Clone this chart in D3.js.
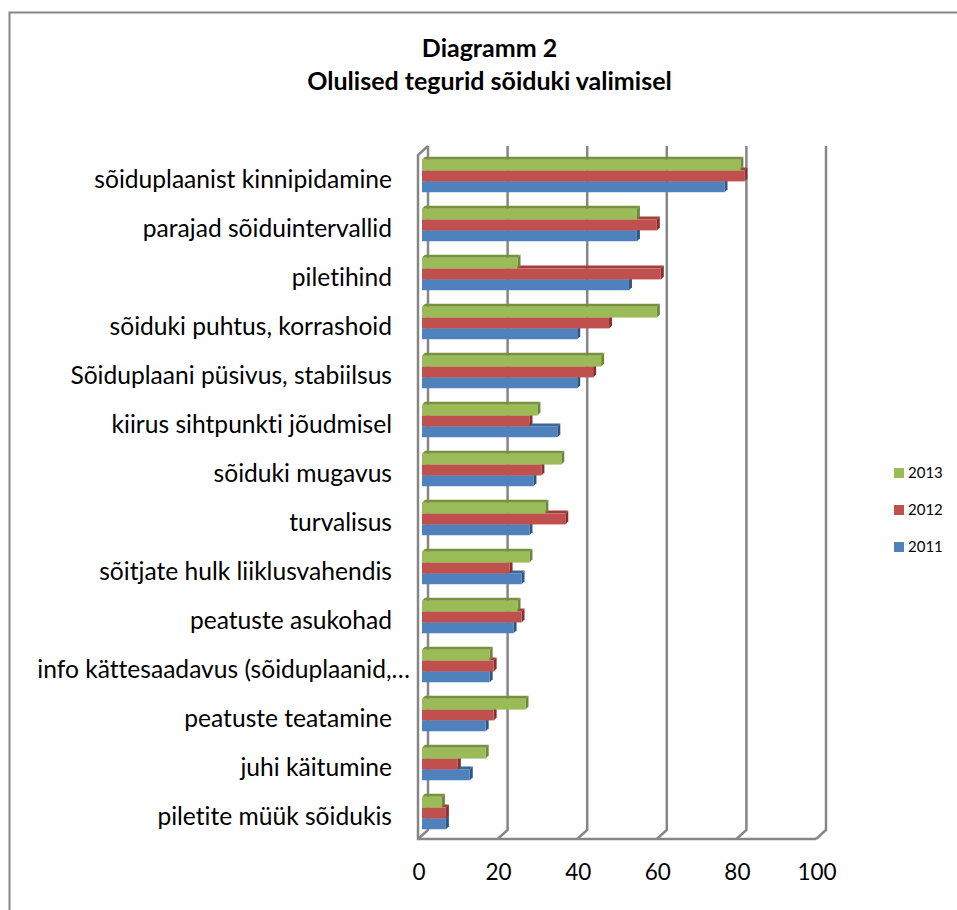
<!DOCTYPE html>
<html>
<head>
<meta charset="utf-8">
<script src="https://cdn.jsdelivr.net/npm/d3@7"></script>
<style>
body { margin: 0; background: #fff; }
text { font-family: Lato, "Open Sans", sans-serif; fill: #000; font-variant-ligatures: none; }
</style>
</head>
<body>
<div id="chart"></div>
<script>
// top to bottom, as shown in the chart
var categories = [
    "sõiduplaanist kinnipidamine",
    "parajad sõiduintervallid",
    "piletihind",
    "sõiduki puhtus, korrashoid",
    "Sõiduplaani püsivus, stabiilsus",
    "kiirus sihtpunkti jõudmisel",
    "sõiduki mugavus",
    "turvalisus",
    "sõitjate hulk liiklusvahendis",
    "peatuste asukohad",
    "info kättesaadavus (sõiduplaanid,…",
    "peatuste teatamine",
    "juhi käitumine",
    "piletite müük sõidukis"
];
var values2013 = [80, 54, 24, 59, 45, 29, 35, 31, 27, 24, 17, 26, 16, 5];
var values2012 = [81, 59, 60, 47, 43, 27, 30, 36, 22, 25, 18, 18, 9, 6];
var values2011 = [76, 54, 52, 39, 39, 34, 28, 27, 25, 23, 17, 16, 12, 6];
var seriesNames = ["2013", "2012", "2011"];
var xTicks = [0, 20, 40, 60, 80, 100];
var titleLines = ["Diagramm 2", "Olulised tegurid sõiduki valimisel"];

var width = 957,
    height = 910;

var seriesValues = { "2013": values2013, "2012": values2012, "2011": values2011 };
var colors = {
    "2013": { front: "#9bbb59", top: "#76923c", side: "#6d8838" },
    "2012": { front: "#c0504d", top: "#a23f3c", side: "#8a2f2d" },
    "2011": { front: "#4f81bd", top: "#3d6797", side: "#2f5585" }
};

var wallDx = 10, wallDy = -9, barDepth = 3;
var wallTop = 155, wallBottom = 839;

var svg = d3.select("#chart")
    .append("svg")
    .attr("width", width)
    .attr("height", height)
    .style("display", "block");

// chart area frame, right and bottom edges are cut off in the picture
svg.append("path")
    .attr("d", "M9.5," + height + "V12.5H" + width)
    .attr("fill", "none")
    .attr("stroke", "#868686")
    .attr("stroke-width", 2);

svg.append("g")
    .selectAll("text")
    .data(titleLines)
    .enter().append("text")
    .attr("x", 489.5)
    .attr("y", function (d, i) { return 57 + i * 33; })
    .attr("text-anchor", "middle")
    .style("font-size", "25px")
    .style("font-weight", "bold")
    .text(function (d) { return d; });

var x = d3.scaleLinear().domain([0, 100]).range([418, 816]);
var xBar = d3.scaleLinear().domain([0, 100]).range([422, 820]);

var y = d3.scaleBand()
    .domain(categories)
    .range([151.5, 837.5])
    .paddingInner(0.337)
    .paddingOuter(0.168);

var ySeries = d3.scaleBand()
    .domain(seriesNames)
    .range([0, y.bandwidth()]);

// Walls and gridlines
var walls = svg.append("g")
    .attr("fill", "none")
    .attr("stroke", "#868686")
    .attr("stroke-width", 2.5);

walls.selectAll(".grid")
    .data(xTicks)
    .enter().append("path")
    .attr("class", "grid")
    .attr("d", function (d) {
        return "M" + x(d) + "," + wallBottom +
            "l" + wallDx + "," + wallDy +
            "V" + (wallTop + wallDy);
    });

walls.append("path")
    .attr("d", "M" + (x(0) + wallDx) + "," + (wallTop + wallDy) +
        "L" + x(0) + "," + wallTop +
        "V" + wallBottom +
        "H" + x(100));

// Bars, lowest series first so the one above covers its top face
var groups = svg.append("g")
    .selectAll("g")
    .data(categories)
    .enter().append("g")
    .attr("transform", function (d) { return "translate(0," + y(d) + ")"; });

seriesNames.slice().reverse().forEach(function (name) {
    var bar = groups.append("g")
        .datum(function (d, i) { return seriesValues[name][i]; });
    var y0 = ySeries(name),
        h = ySeries.bandwidth(),
        x0 = xBar(0);

    bar.append("path")
        .attr("fill", colors[name].top)
        .attr("d", function (d) {
            return "M" + x0 + "," + y0 +
                "l" + barDepth + "," + (-barDepth) +
                "H" + (xBar(d) + barDepth) +
                "l" + (-barDepth) + "," + barDepth + "Z";
        });
    bar.append("path")
        .attr("fill", colors[name].side)
        .attr("d", function (d) {
            return "M" + xBar(d) + "," + y0 +
                "l" + barDepth + "," + (-barDepth) +
                "v" + h +
                "l" + (-barDepth) + "," + barDepth + "Z";
        });
    bar.append("rect")
        .attr("x", x0)
        .attr("y", y0)
        .attr("width", function (d) { return xBar(d) - x0; })
        .attr("height", h)
        .attr("fill", colors[name].front);
});

// Axes
var xAxis = d3.axisBottom(x).tickValues(xTicks).tickSize(0).tickPadding(0);
var xAxisG = svg.append("g")
    .attr("transform", "translate(0.5,864)")
    .call(xAxis);
xAxisG.select(".domain").remove();
xAxisG.selectAll("text").style("font-size", "22.5px").attr("dy", "0.71em");

var yAxis = d3.axisLeft(y).tickSize(0).tickPadding(0);
var yAxisG = svg.append("g")
    .attr("transform", "translate(392,4)")
    .call(yAxis);
yAxisG.select(".domain").remove();
yAxisG.selectAll("text")
    .style("font-size", "24.6px")
    .attr("x", function (d) { return d.slice(-1) === "…" ? 18 : 0; });

// Legend
var legend = svg.append("g")
    .selectAll("g")
    .data(seriesNames)
    .enter().append("g")
    .attr("transform", function (d, i) { return "translate(894," + (468 + i * 37) + ")"; });

legend.append("rect")
    .attr("width", 10)
    .attr("height", 10)
    .attr("fill", function (d) { return colors[d].front; });

legend.append("text")
    .attr("x", 14)
    .attr("y", 5)
    .attr("dy", "0.35em")
    .style("font-size", "15px")
    .text(function (d) { return d; });
</script>
</body>
</html>
